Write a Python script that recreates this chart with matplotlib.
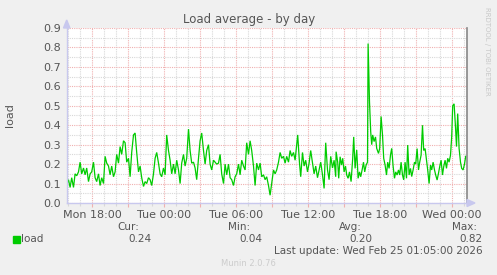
import matplotlib
matplotlib.use("Agg")
import matplotlib.pyplot as plt
from matplotlib.ticker import MultipleLocator, FuncFormatter

# ---- data: minutes since Mon 00:00, load values ----
minutes = [
    953, 962, 970, 978, 987, 995, 1003, 1012, 1020, 1028, 1037, 1045, 1053, 1062, 1070, 1078,
    1087, 1095, 1103, 1112, 1120, 1128, 1137, 1145, 1153, 1162, 1170, 1178, 1187, 1195, 1203,
    1212, 1220, 1228, 1237, 1245, 1253, 1262, 1270, 1278, 1287, 1295, 1303, 1312, 1320, 1328,
    1337, 1345, 1353, 1362, 1370, 1378, 1387, 1395, 1403, 1412, 1420, 1428, 1437, 1445, 1453,
    1462, 1470, 1478, 1487, 1495, 1503, 1512, 1520, 1528, 1537, 1545, 1553, 1562, 1570, 1578,
    1587, 1595, 1603, 1612, 1620, 1628, 1637, 1645, 1653, 1662, 1670, 1678, 1687, 1695, 1703,
    1712, 1720, 1728, 1737, 1745, 1753, 1762, 1770, 1778, 1787, 1795, 1803, 1812, 1820, 1828,
    1837, 1845, 1853, 1862, 1870,
    1878, 1887, 1895, 1903, 1912, 1920, 1928, 1937, 1945, 1953, 1962, 1970, 1978, 1987, 1995,
    2003, 2012, 2020, 2028, 2037, 2045, 2053, 2062, 2070, 2078, 2087, 2095, 2103, 2108, 2117,
    2123, 2132, 2140, 2148, 2157, 2165, 2173, 2182, 2190, 2198, 2207, 2215, 2223, 2232, 2240,
    2248, 2257, 2265, 2273, 2282, 2290, 2298,
    2300, 2308, 2313, 2320, 2327, 2333, 2340, 2347, 2353, 2360, 2367, 2375, 2383, 2388, 2395,
    2403, 2410, 2417, 2423, 2430, 2437, 2443, 2450, 2457, 2460, 2467, 2473, 2478, 2483, 2490,
    2497, 2503, 2512, 2518, 2525, 2532, 2538, 2545, 2552, 2558, 2565, 2572, 2578, 2585, 2592,
    2598, 2605, 2612, 2618, 2625, 2632, 2638,
    2645, 2652, 2658, 2665, 2672, 2678, 2685, 2692, 2698, 2705, 2712, 2718, 2725, 2732, 2738,
    2745, 2752, 2758, 2765, 2772, 2778, 2785, 2792, 2798, 2805, 2812, 2818, 2825, 2832, 2838,
    2845, 2852, 2858, 2865, 2872, 2878, 2883, 2890, 2897, 2902, 2908, 2915, 2922, 2928, 2935,
    2942, 2948,
]
load = [
    0.093, 0.12, 0.08, 0.13, 0.08, 0.15, 0.14, 0.16, 0.21, 0.15, 0.18, 0.145, 0.18, 0.11, 0.15, 0.16,
    0.21, 0.13, 0.11, 0.15, 0.09, 0.13, 0.10, 0.24, 0.205, 0.19, 0.145, 0.19, 0.135, 0.16, 0.25,
    0.205, 0.29, 0.25, 0.32, 0.31, 0.21, 0.23, 0.135, 0.26, 0.35, 0.36, 0.26, 0.16, 0.19, 0.13,
    0.085, 0.11, 0.10, 0.13, 0.12, 0.09, 0.15, 0.23, 0.26, 0.205, 0.15, 0.135, 0.18, 0.145, 0.35,
    0.27, 0.22, 0.15, 0.20, 0.15, 0.22, 0.17, 0.10, 0.205, 0.25, 0.19, 0.23, 0.38, 0.27, 0.205,
    0.21, 0.18, 0.12, 0.23, 0.32, 0.36, 0.27, 0.20, 0.27, 0.30, 0.20, 0.17, 0.22, 0.21, 0.20,
    0.205, 0.25, 0.15, 0.10, 0.20, 0.145, 0.20, 0.13, 0.12, 0.09, 0.135, 0.15, 0.20, 0.145, 0.22,
    0.19, 0.17, 0.31, 0.25, 0.32,
    0.27, 0.19, 0.09, 0.205, 0.17, 0.205, 0.135, 0.145, 0.12, 0.135, 0.09, 0.04, 0.10, 0.17, 0.15,
    0.17, 0.21, 0.26, 0.23, 0.24, 0.205, 0.24, 0.21, 0.27, 0.24, 0.26, 0.22, 0.30, 0.35, 0.205,
    0.135, 0.26, 0.19, 0.22, 0.16, 0.205, 0.27, 0.205, 0.15, 0.19, 0.13, 0.17, 0.21, 0.145, 0.075,
    0.31, 0.17, 0.12, 0.24, 0.18, 0.22, 0.135,
    0.264, 0.21, 0.127, 0.238, 0.195, 0.23, 0.16, 0.19, 0.144, 0.127, 0.16, 0.11, 0.23, 0.34, 0.178,
    0.273, 0.127, 0.16, 0.135, 0.17, 0.21, 0.16, 0.195, 0.21, 0.82, 0.52, 0.367, 0.30, 0.35, 0.316,
    0.34, 0.281, 0.255, 0.281, 0.445, 0.35, 0.23, 0.195, 0.144, 0.21, 0.178, 0.247, 0.281, 0.19, 0.127,
    0.16, 0.144, 0.17, 0.144, 0.21, 0.144, 0.119,
    0.21, 0.127, 0.298, 0.144, 0.178, 0.136, 0.17, 0.21, 0.20, 0.28, 0.17, 0.21, 0.246, 0.40, 0.27,
    0.28, 0.22, 0.17, 0.10, 0.195, 0.17, 0.21, 0.17, 0.144, 0.118, 0.153, 0.187, 0.22, 0.144, 0.187,
    0.22, 0.178, 0.23, 0.21, 0.246, 0.34, 0.50, 0.51, 0.39, 0.29, 0.46, 0.28, 0.21, 0.178, 0.17,
    0.20, 0.24,
]

x_start, x_end = 953, 2953          # minutes since Mon 00:00
tick_label_minutes = [1080, 1440, 1800, 2160, 2520, 2880]
tick_labels = ["Mon 18:00", "Tue 00:00", "Tue 06:00", "Tue 12:00", "Tue 18:00", "Wed 00:00"]

title = "Load average - by day"
ylabel = "load"
series_name = "load"
stat_names = ["Cur:", "Min:", "Avg:", "Max:"]
stat_values = ["0.24", "0.04", "0.20", "0.82"]
last_update = "Last update: Wed Feb 25 01:05:00 2026"
footer = "Munin 2.0.76"
side_text = "RRDTOOL / TOBI OETIKER"

# ---- style ----
W, H = 497, 275
BG = "#f0f0f0"
TXT = "#555555"
LINE = "#00cc00"
MINOR = "#d8d8d8"
MAJOR = "#f0b0b0"

plt.rcParams["font.family"] = ["DejaVu Sans"]
fig = plt.figure(figsize=(W / 100, H / 100), dpi=100, facecolor=BG)
ax = fig.add_axes([66.7 / W, (H - 203) / H, 400 / W, 175 / H])
ax.set_facecolor("white")

ax.set_xlim(x_start, x_end)
ax.set_ylim(0, 0.9)

# grid
ax.xaxis.set_minor_locator(MultipleLocator(60))
ax.xaxis.set_major_locator(MultipleLocator(180))
ax.yaxis.set_major_locator(MultipleLocator(0.1))
ax.yaxis.set_minor_locator(MultipleLocator(0.05))
ax.grid(which="minor", color=MINOR, linestyle=(0, (1, 1)), linewidth=0.8)
ax.grid(which="major", color=MAJOR, linestyle=(0, (1, 1)), linewidth=0.8)
ax.set_axisbelow(True)

ax.xaxis.set_major_formatter(FuncFormatter(lambda v, p: ""))
ax.tick_params(axis="x", which="major", length=3, color=MAJOR, width=0.8, direction="out")
ax.tick_params(axis="x", which="minor", length=2, color=MINOR, width=0.8, direction="out")
ax.tick_params(axis="y", which="both", length=0, labelsize=8, labelcolor=TXT, pad=4)
ax.yaxis.set_major_formatter(FuncFormatter(lambda v, p: f"{v:.1f}"))

for lbl_m, lbl in zip(tick_label_minutes, tick_labels):
    ax.text(lbl_m, -0.035, lbl, transform=ax.transData, ha="center", va="top",
            fontsize=8, color=TXT, clip_on=False)

ax.spines["top"].set_visible(False)
ax.spines["left"].set_color("#c8c8ee")
ax.spines["bottom"].set_color("#c8c8ee")
ax.spines["right"].set_color("#888888")
ax.spines["left"].set_linewidth(1)
ax.spines["bottom"].set_linewidth(1)
ax.spines["right"].set_linewidth(1.2)

# axis arrows
fig.patches.append(matplotlib.patches.Polygon(
    [[63.5 / W, (H - 28) / H], [69.9 / W, (H - 28) / H], [66.7 / W, (H - 20) / H]],
    closed=True, transform=fig.transFigure, color="#c8c8ee"))
fig.patches.append(matplotlib.patches.Polygon(
    [[467 / W, (H - 199.5) / H], [467 / W, (H - 206.5) / H], [475 / W, (H - 203) / H]],
    closed=True, transform=fig.transFigure, color="#c8c8ee"))

ax.plot(minutes, load, color=LINE, linewidth=0.9, solid_joinstyle="miter")

# texts
fig.text(249 / W, 1 - 20 / H, title, ha="center", va="center", fontsize=8.5, color=TXT)
fig.text(10 / W, 1 - 115 / H, ylabel, ha="center", va="center", rotation=90, fontsize=8, color=TXT)
fig.text(487 / W, 1 - 51 / H, side_text, ha="center", va="center", rotation=270,
         fontsize=5, color="#c8c8c8")

fig.patches.append(matplotlib.patches.Rectangle(
    (13 / W, 1 - 243 / H), 7 / W, 7 / H, transform=fig.transFigure, color=LINE))
fig.text(20.5 / W, 1 - 239.5 / H, series_name, ha="left", va="center", fontsize=7.5, color=TXT)

stat_right = [139.5, 250, 362, 477]
val_right = [151.5, 262, 372, 482]
for sr, vr, n, v in zip(stat_right, val_right, stat_names, stat_values):
    fig.text(sr / W, 1 - 227.5 / H, n, ha="right", va="center", fontsize=7.5, color=TXT)
    fig.text(vr / W, 1 - 239.5 / H, v, ha="right", va="center", fontsize=7.5, color=TXT)
fig.text(483 / W, 1 - 251 / H, last_update, ha="right", va="center", fontsize=7.5, color=TXT)
fig.text(248 / W, 1 - 263 / H, footer, ha="center", va="center", fontsize=6, color="#cccccc")

fig.savefig("out.png", dpi=100, facecolor=BG)
